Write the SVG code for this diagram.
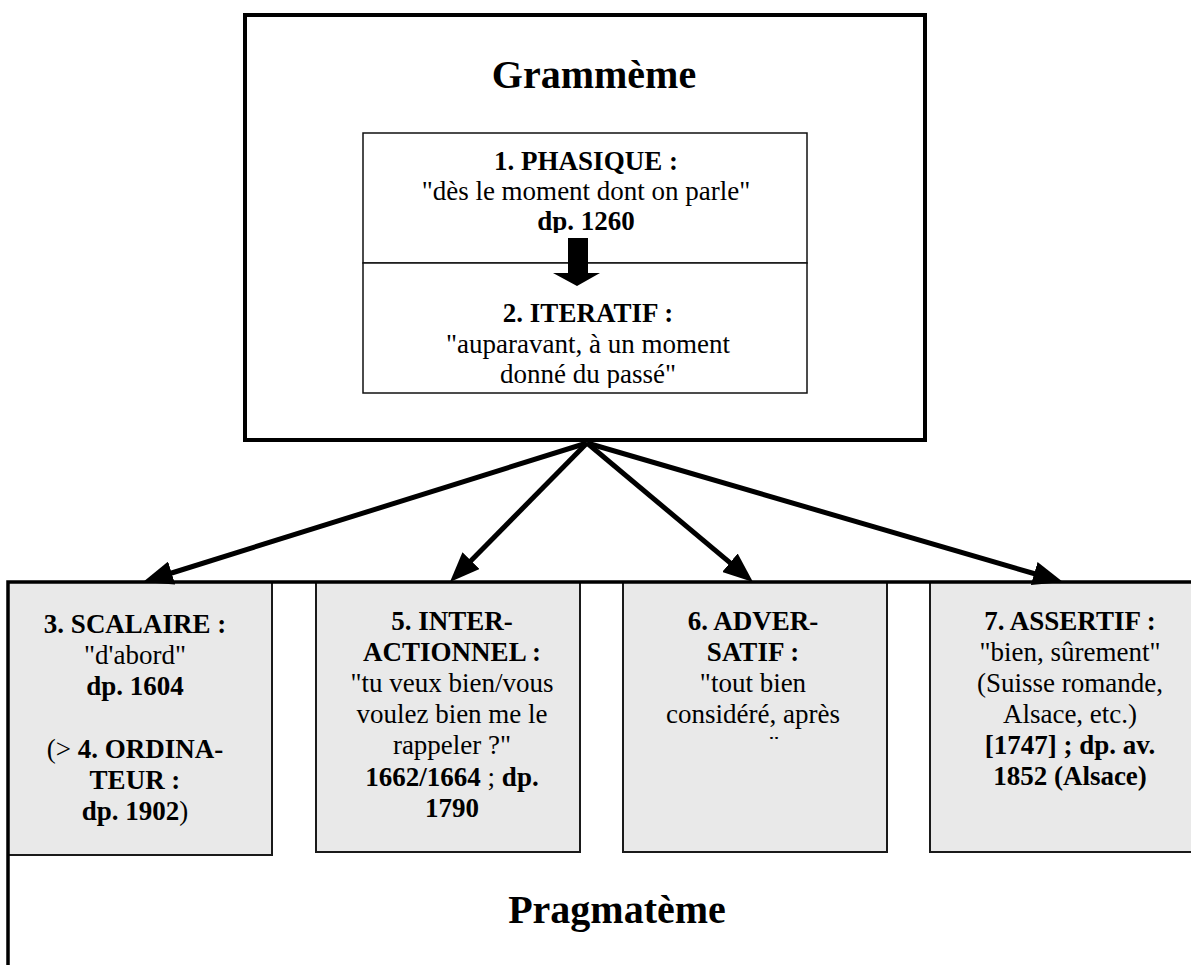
<svg xmlns="http://www.w3.org/2000/svg" width="1191" height="965" viewBox="0 0 1191 965">
<style>
.t{font-family:"Liberation Serif","Times New Roman",serif;font-size:27px;text-anchor:middle;fill:#000}
.b{font-weight:bold}
.title{font-family:"Liberation Serif","Times New Roman",serif;font-size:40px;font-weight:bold;text-anchor:middle;fill:#000}
.gbox{fill:#e9e9e9;stroke:#1a1a1a;stroke-width:2}
.conn{stroke:#000;stroke-width:5;fill:none;marker-end:url(#ah)}
</style>
<defs>
<marker id="ah" markerUnits="userSpaceOnUse" markerWidth="30" markerHeight="24" viewBox="0 0 30 24" refX="5" refY="12" orient="auto">
<path d="M0,0 L30,12 L0,24 z" fill="#000"/>
</marker>
<clipPath id="c1"><rect x="363" y="133" width="444" height="100"/></clipPath>
<clipPath id="c2"><rect x="363" y="263" width="444" height="125"/></clipPath>
<clipPath id="c5"><rect x="316" y="582" width="264" height="259"/></clipPath>
<clipPath id="c6"><rect x="623" y="582" width="264" height="157"/></clipPath>
</defs>
<rect width="1191" height="965" fill="#fff"/>

<g id="grammeme">
<rect x="245" y="15" width="680" height="425" fill="#fff" stroke="#000" stroke-width="4"/>
<text class="title" x="594" y="88">Grammème</text>
</g>

<g id="phasique">
<rect x="363" y="133" width="444" height="130" fill="#fff" stroke="#111" stroke-width="1.5"/>
<g clip-path="url(#c1)">
<text class="t b" x="586" y="170">1. PHASIQUE :</text>
<text class="t" x="586" y="200">"dès le moment dont on parle"</text>
<text class="t b" x="586" y="230">dp. 1260</text>
</g>
</g>

<g id="iteratif">
<rect x="363" y="263" width="444" height="130" fill="#fff" stroke="#111" stroke-width="1.5"/>
<g clip-path="url(#c2)">
<text class="t b" x="588" y="322">2. ITERATIF :</text>
<text class="t" x="588" y="353">"auparavant, à un moment</text>
<text class="t" x="588" y="383">donné du passé"</text>
</g>
</g>

<g id="block-arrow">
<polygon points="568,238 588,238 588,273 600,273 577,286 553,273 568,273" fill="#000"/>
</g>

<g id="scalaire">
<rect class="gbox" x="8" y="582" width="264" height="273"/>
<text class="t b" x="135" y="633">3. SCALAIRE :</text>
<text class="t" x="135" y="664">"d'abord"</text>
<text class="t b" x="135" y="695">dp. 1604</text>
<text class="t" x="135" y="758">(&gt; <tspan class="b">4. ORDINA-</tspan></text>
<text class="t b" x="135" y="789">TEUR :</text>
<text class="t" x="135" y="820"><tspan class="b">dp. 1902</tspan>)</text>
</g>

<g id="interactionnel">
<rect class="gbox" x="316" y="582" width="264" height="270"/>
<g clip-path="url(#c5)">
<text class="t b" x="452" y="630">5. INTER-</text>
<text class="t b" x="452" y="661">ACTIONNEL :</text>
<text class="t" x="452" y="692">"tu veux bien/vous</text>
<text class="t" x="452" y="723">voulez bien me le</text>
<text class="t" x="452" y="754">rappeler ?"</text>
<text class="t" x="452" y="786"><tspan class="b">1662/1664</tspan> ; <tspan class="b">dp.</tspan></text>
<text class="t b" x="452" y="817">1790</text>
</g>
</g>

<g id="adversatif">
<rect class="gbox" x="623" y="582" width="264" height="270"/>
<g clip-path="url(#c6)">
<text class="t b" x="753" y="630">6. ADVER-</text>
<text class="t b" x="753" y="661">SATIF :</text>
<text class="t" x="753" y="692">"tout bien</text>
<text class="t" x="753" y="723">considéré, après</text>
<text class="t" x="753" y="755">tout"</text>
</g>
</g>

<g id="assertif">
<rect class="gbox" x="930" y="582" width="266" height="270"/>
<text class="t b" x="1070" y="630">7. ASSERTIF :</text>
<text class="t" x="1070" y="661">"bien, sûrement"</text>
<text class="t" x="1070" y="692">(Suisse romande,</text>
<text class="t" x="1070" y="723">Alsace, etc.)</text>
<text class="t b" x="1070" y="754">[1747] ; dp. av.</text>
<text class="t b" x="1070" y="785">1852 (Alsace)</text>
</g>

<g id="pragmateme">
<path d="M8,967 L8,582 L1193,582" fill="none" stroke="#000" stroke-width="3.5"/>
<text class="title" x="617" y="923">Pragmatème</text>
</g>

<g id="connectors">
<line class="conn" x1="587" y1="443" x2="166.9" y2="574.5"/>
<line class="conn" x1="587" y1="443" x2="467.5" y2="564.2"/>
<line class="conn" x1="587" y1="443" x2="733.8" y2="565.9"/>
<line class="conn" x1="587" y1="443" x2="1039" y2="575"/>
</g>
</svg>
